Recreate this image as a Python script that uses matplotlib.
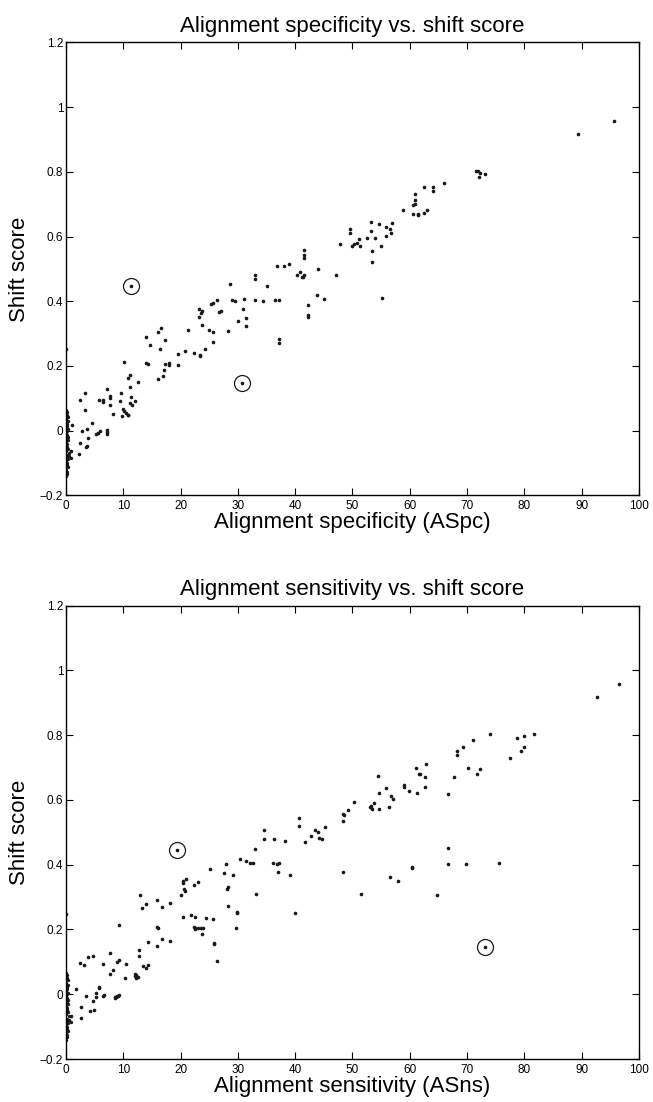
import matplotlib.pyplot as plt

plt.rcParams['font.family'] = ['Liberation Sans', 'DejaVu Sans']

# ---- top panel: alignment specificity vs shift score ----
spc_x = [28.6, 23.3, 23.7, 23.6, 26.4, 25.7, 25.4, 28.9, 29.5, 31.1, 30.9, 30.1, 31.5, 31.5,
         27.0, 26.7, 23.2, 23.8, 25.0, 25.7, 28.3, 21.3, 25.7, 24.2, 23.4, 23.4, 22.3, 20.7,
         19.6, 19.5, 17.9, 17.9, 17.3, 16.1, 17.0, 17.1, 17.2, 16.5, 16.6, 16.0, 14.7, 13.9,
         13.9, 14.3, 10.2, 10.8, 11.2, 11.2, 12.5, 11.4, 12.1, 11.6, 11.2, 9.6, 9.4, 9.9, 10.1,
         9.7, 10.5, 10.8, 10.9, 8.2, 7.6, 7.7, 7.7, 7.1, 6.5, 6.5, 5.7, 3.4, 3.4, 2.5, 2.8, 2.5,
         2.2, 0.9, 1.0, 3.7, 3.9, 3.6, 3.5, 4.6, 5.2, 5.6, 5.9, 7.2, 7.2, 7.2, 0.0,
         33.0, 33.0, 35.1, 34.4, 33.0, 36.5, 37.2, 37.2, 37.2, 36.9, 38.0, 39.0, 40.8, 40.4,
         41.4, 41.2, 41.6, 41.6, 41.5, 41.5, 44.0, 43.8, 45.0, 42.2, 42.2, 42.2, 47.1, 47.8,
         49.5, 49.5, 50.3, 50.8, 50.0, 51.3, 51.1, 52.6, 53.3, 53.3, 53.4, 53.4, 54.0, 54.7,
         54.9, 55.1, 55.8, 56.5, 56.9, 56.7, 55.8,
         95.7, 89.3, 71.6, 71.9, 72.2, 72.0, 73.2, 66.0, 62.4, 64.0, 64.0, 61.0, 61.0, 60.9,
         60.6, 58.9, 60.6, 61.4, 61.4, 62.4, 63.0]
spc_y = [0.452, 0.377, 0.369, 0.364, 0.403, 0.394, 0.39, 0.403, 0.401, 0.407, 0.377, 0.34, 0.347, 0.325,
         0.37, 0.368, 0.35, 0.327, 0.31, 0.305, 0.309, 0.312, 0.274, 0.253, 0.233, 0.23, 0.241, 0.245,
         0.238, 0.204, 0.208, 0.202, 0.206, 0.159, 0.168, 0.188, 0.279, 0.251, 0.318, 0.305, 0.266, 0.29,
         0.209, 0.207, 0.213, 0.163, 0.171, 0.136, 0.151, 0.105, 0.092, 0.079, 0.086, 0.118, 0.092, 0.066, 0.061,
         0.047, 0.054, 0.049, 0.048, 0.052, 0.106, 0.101, 0.078, 0.129, 0.095, 0.089, 0.095, 0.117, 0.065, 0.096, -0.002, -0.039,
         -0.072, -0.064, 0.018, 0.006, -0.022, -0.048, -0.049, 0.024, -0.009, -0.006, -0.001, 0.001, -0.003, -0.01, 0.251,
         0.48, 0.469, 0.448, 0.401, 0.403, 0.404, 0.404, 0.284, 0.27, 0.508, 0.509, 0.515, 0.489, 0.481,
         0.476, 0.474, 0.481, 0.559, 0.543, 0.535, 0.5, 0.418, 0.406, 0.388, 0.357, 0.351, 0.48, 0.578,
         0.622, 0.61, 0.578, 0.58, 0.571, 0.57, 0.593, 0.596, 0.646, 0.618, 0.554, 0.521, 0.595, 0.638,
         0.571, 0.411, 0.628, 0.623, 0.641, 0.61, 0.603,
         0.958, 0.917, 0.803, 0.803, 0.797, 0.783, 0.792, 0.765, 0.752, 0.753, 0.741, 0.73, 0.713, 0.7,
         0.697, 0.682, 0.67, 0.67, 0.667, 0.673, 0.682]
spc_circled_x = [11.4, 30.8]
spc_circled_y = [0.448, 0.146]

# pile of genes sitting on x ~ 0 (same in both panels)
zero_x = [0.0, 0.2, 0.1, 0.3, 0.0, 0.4, 0.1, 0.2, 0.0, 0.3, 0.1, 0.0, 0.2, 0.4, 0.1, 0.3, 0.0,
          0.2, 0.1, 0.3, 0.0, 0.5, 0.2, 0.1, 0.3, 0.0, 0.2, 0.1, 0.4, 0.0, 0.2, 0.1, 0.0, 0.6, 0.8]
zero_y = [0.065, 0.058, 0.05, 0.043, 0.035, 0.03, 0.022, 0.015, 0.01, 0.004, 0.0, -0.006, -0.012,
          -0.018, -0.025, -0.03, -0.036, -0.042, -0.05, -0.056, -0.062, -0.068, -0.075, -0.082,
          -0.088, -0.095, -0.1, -0.107, -0.113, -0.12, -0.127, -0.133, -0.14, -0.078, -0.085]

# ---- bottom panel: alignment sensitivity vs shift score ----
sns_x = [96.6, 92.7, 74.0, 81.7, 78.8, 79.9, 79.9, 79.4, 71.0, 69.3, 68.2, 68.2, 77.5, 67.7, 70.2,
         72.3, 71.8, 61.1, 61.6, 61.8, 62.8, 62.7, 62.7, 61.2, 59.9, 59.0, 59.0, 66.6, 54.5, 55.8,
         54.6, 56.8, 57.0, 56.4, 54.7, 53.8, 53.3, 53.4, 53.0, 50.3, 49.2, 48.4, 48.5, 48.3, 40.6,
         40.6, 45.2, 42.7, 43.4, 43.9, 44.1, 44.6, 41.8, 34.6, 34.6, 36.3, 38.2, 33.0, 30.3, 31.4,
         32.2, 32.6, 28.0, 27.6, 29.1, 36.1, 36.9, 37.2, 37.0, 39.1, 28.2, 28.1, 33.1, 28.2, 29.9,
         29.9, 29.7, 40.0, 25.2, 20.4, 20.5, 21.0, 20.6, 20.7, 20.0, 22.4, 23.1, 12.9, 13.2, 14.0,
         15.9, 16.8, 18.1, 20.5, 21.8, 22.6, 24.4, 25.6, 22.3, 22.5, 23.0, 22.6, 23.5, 24.0, 23.8,
         25.8, 25.8, 26.3, 15.9, 16.0, 15.9, 16.7, 18.2, 14.4, 9.3, 12.7, 12.8, 13.5, 13.9, 14.4,
         12.0, 12.3, 12.0, 12.2, 12.6, 10.3, 10.4, 9.3, 8.9, 7.7, 8.2, 7.6, 6.4, 4.8, 3.9, 3.2,
         2.5, 3.5, 2.7, 2.7, 1.8, 0.9, 4.2, 4.9, 4.7, 5.3, 5.2, 5.8, 5.7, 6.4, 6.7, 8.5, 8.8, 8.9,
         9.1, 9.3, 8.5, 48.4, 51.5, 56.6, 57.9, 60.4, 60.4, 64.7, 66.7, 66.7, 69.9, 75.6, 0.0]
sns_y = [0.959, 0.918, 0.803, 0.803, 0.792, 0.799, 0.763, 0.751, 0.784, 0.765, 0.752, 0.74, 0.731, 0.672, 0.7,
         0.696, 0.681, 0.698, 0.68, 0.68, 0.712, 0.67, 0.639, 0.623, 0.627, 0.645, 0.64, 0.617, 0.673, 0.637,
         0.623, 0.611, 0.604, 0.579, 0.572, 0.592, 0.58, 0.572, 0.577, 0.594, 0.57, 0.557, 0.553, 0.535, 0.544,
         0.521, 0.515, 0.489, 0.508, 0.5, 0.481, 0.48, 0.469, 0.508, 0.48, 0.48, 0.474, 0.449, 0.418, 0.41,
         0.406, 0.404, 0.403, 0.373, 0.369, 0.405, 0.402, 0.404, 0.378, 0.368, 0.33, 0.325, 0.309, 0.273, 0.254,
         0.251, 0.205, 0.251, 0.387, 0.351, 0.345, 0.357, 0.324, 0.32, 0.305, 0.338, 0.346, 0.305, 0.266, 0.278,
         0.291, 0.27, 0.283, 0.238, 0.244, 0.24, 0.234, 0.231, 0.209, 0.204, 0.205, 0.2, 0.205, 0.205, 0.187,
         0.158, 0.156, 0.102, 0.208, 0.206, 0.15, 0.171, 0.166, 0.162, 0.213, 0.136, 0.117, 0.087, 0.081, 0.09,
         0.064, 0.061, 0.057, 0.049, 0.053, 0.05, 0.092, 0.106, 0.099, 0.127, 0.075, 0.064, 0.094, 0.118, 0.114, 0.091,
         0.095, -0.004, -0.04, -0.074, 0.016, -0.066, -0.051, -0.05, -0.022, -0.01, 0.005, 0.022, 0.019, -0.004, -0.002, -0.012, -0.01, -0.004,
         -0.006, -0.002, -0.008, 0.377, 0.311, 0.363, 0.351, 0.392, 0.389, 0.308, 0.452, 0.403, 0.401, 0.406, 0.248]
sns_circled_x = [19.3, 73.1]
sns_circled_y = [0.447, 0.145]

yticks = [-0.2, 0, 0.2, 0.4, 0.6, 0.8, 1, 1.2]
ytick_labels = ['\u22120.2', '0', '0.2', '0.4', '0.6', '0.8', '1', '1.2']
xticks = [0, 10, 20, 30, 40, 50, 60, 70, 80, 90, 100]

fig = plt.figure(figsize=(6.53, 11.02), dpi=100)
ax1 = fig.add_axes([0.101, 0.5504, 0.8775, 0.4112])
ax2 = fig.add_axes([0.101, 0.0390, 0.8775, 0.4114])


def draw_panel(ax, x, y, cx, cy, title, xlabel):
    ax.plot(x, y, '.', color='#1a1a1a', markersize=3.2)
    ax.plot(zero_x, zero_y, '.', color='#1a1a1a', markersize=2.8)
    ax.plot(cx, cy, '.', color='#1a1a1a', markersize=3.2)
    ax.plot(cx, cy, 'o', mfc='none', mec='#1a1a1a', markersize=11.5, mew=0.9)
    ax.set_xlim(0, 100)
    ax.set_ylim(-0.2, 1.2)
    ax.set_xticks(xticks)
    ax.set_yticks(yticks)
    ax.set_yticklabels(ytick_labels)
    ax.tick_params(direction='in', top=True, right=True, length=5, width=0.8,
                   labelsize=8.5)
    ax.tick_params(axis='y', pad=2)
    ax.tick_params(axis='x', pad=3.5)
    for s in ax.spines.values():
        s.set_linewidth(1.0)
    ax.set_title(title, fontsize=16, pad=7.5)
    ax.set_xlabel(xlabel, fontsize=16, labelpad=0)
    ax.set_ylabel('Shift score', fontsize=16, labelpad=7)


draw_panel(ax1, spc_x, spc_y, spc_circled_x, spc_circled_y,
           'Alignment specificity vs. shift score', 'Alignment specificity (ASpc)')
draw_panel(ax2, sns_x, sns_y, sns_circled_x, sns_circled_y,
           'Alignment sensitivity vs. shift score', 'Alignment sensitivity (ASns)')

plt.savefig('out.png', dpi=100)
